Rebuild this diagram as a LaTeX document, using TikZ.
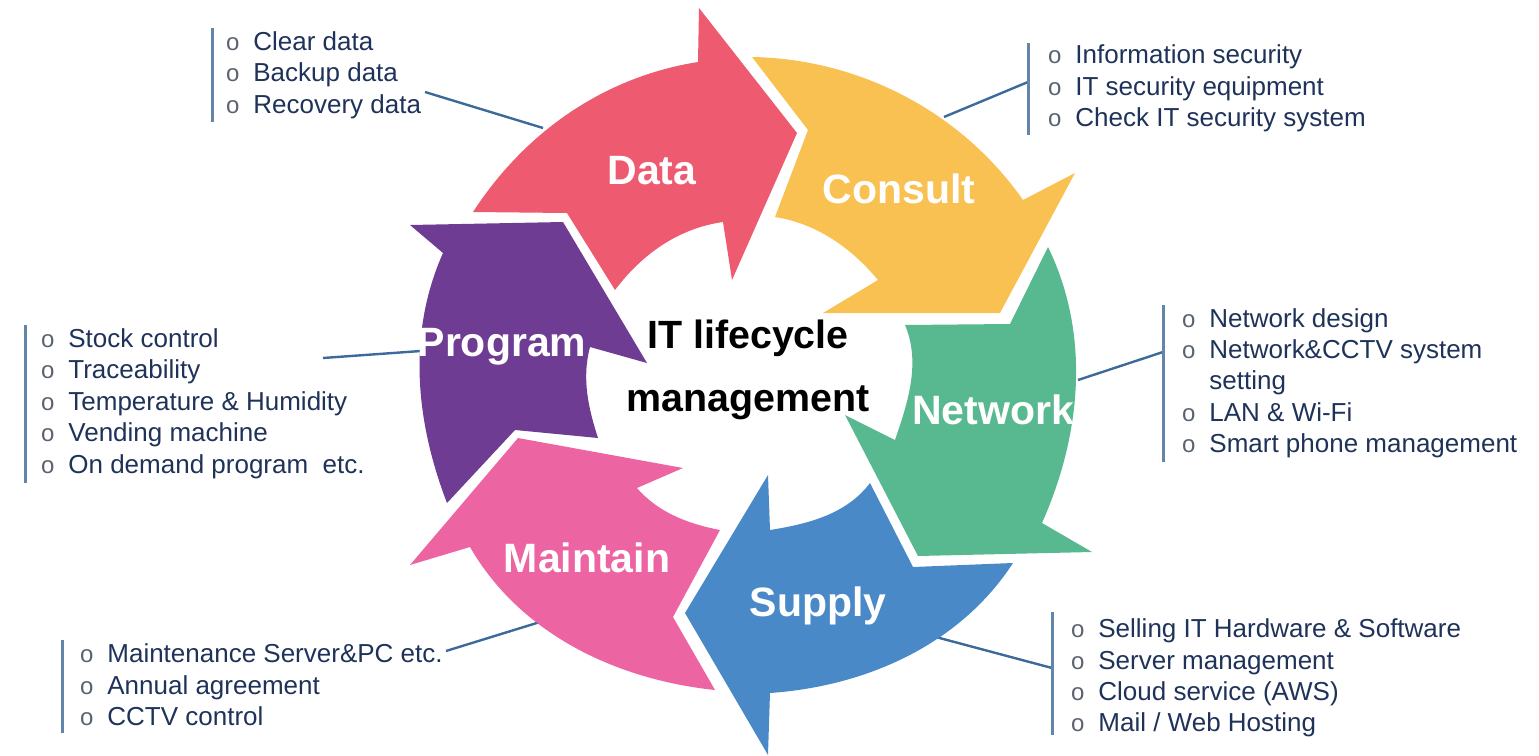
\documentclass[tikz,border=0pt]{standalone}
\usepackage{fontspec}
\setmainfont{Liberation Sans}
\definecolor{datared}{HTML}{EE5A6F}
\definecolor{consultyellow}{HTML}{F9C152}
\definecolor{networkgreen}{HTML}{58B88F}
\definecolor{supplyblue}{HTML}{4A89C8}
\definecolor{maintainpink}{HTML}{EC65A2}
\definecolor{programpurple}{HTML}{6E3C93}
\definecolor{itemtext}{HTML}{1F3259}
\definecolor{linkblue}{HTML}{3C6A9A}
\definecolor{barblue}{HTML}{6385AA}
\definecolor{bulletgray}{HTML}{5A6272}
\newcommand{\bul}{\llap{\textcolor{bulletgray}{\fontsize{12}{12}\selectfont o}\hspace{7pt}}}
\tikzset{
  listitem/.style={anchor=base west, inner sep=0pt, text=itemtext, font=\fontsize{13}{15}\selectfont},
  stagelabel/.style={anchor=base, inner sep=0pt, text=white, font=\fontsize{20.5}{24}\selectfont\bfseries},
  centertitle/.style={anchor=base, inner sep=0pt, text=black, font=\fontsize{19.7}{24}\selectfont\bfseries},
  listbar/.style={draw=barblue, line width=1.5pt},
  leader/.style={draw=linkblue, line width=1.2pt},
  ring/.style={looseness=0.9},
}
\begin{document}
\begin{tikzpicture}[x=0.5pt,y=-0.5pt]
        \useasboundingbox (0,0) rectangle (1539,756);

        \coordinate (datafoot) at (425,92);
        \coordinate (datahook) at (543,128);
        \coordinate (consultfoot) at (1028,82);
        \coordinate (consulthook) at (944,117);
        \coordinate (networkfoot) at (1163,352);
        \coordinate (networkhook) at (1078,380);
        \coordinate (supplyfoot) at (1052,668);
        \coordinate (supplyhook) at (932,636);
        \coordinate (maintainfoot) at (446,651);
        \coordinate (maintainhook) at (540,622);
        \coordinate (programfoot) at (323,358);
        \coordinate (programhook) at (421,351);

        \draw[leader] (datafoot) -- (datahook);
        \draw[leader] (consultfoot) -- (consulthook);
        \draw[leader] (networkfoot) -- (networkhook);
        \draw[leader] (supplyfoot) -- (supplyhook);
        \draw[leader] (maintainfoot) -- (maintainhook);
        \draw[leader] (programfoot) -- (programhook);

        % the six bent arrows
        \fill[datared] (473,212) -- (567,213) -- (615,290) to[ring,out=53,in=188] (723,222)
            -- (732,280) -- (797,133) -- (699,8) -- (698,62) to[ring,out=189,in=57] (473,212) -- cycle;
        \fill[consultyellow] (752,57) -- (808,130) -- (775,217) to[ring,out=-9,in=130] (878,280)
            -- (823,313) -- (1000,313) -- (1075,173) -- (1023,200) to[ring,out=125,in=-1] (752,57) -- cycle;
        \fill[networkgreen] (1048,247) -- (1010,324) -- (905,325) to[ring,out=-67,in=71] (895,440)
            -- (845,415) -- (918,556) -- (1092,552) -- (1042,523) to[ring,out=66,in=-64] (1048,247) -- cycle;
        \fill[supplyblue] (1013,563) -- (913,567) -- (870,483) to[ring,out=-127,in=9] (770,530)
            -- (768,475) -- (685,613) -- (768,755) -- (770,693) to[ring,out=4,in=-123] (1013,563) -- cycle;
        \fill[maintainpink] (720,530) -- (673,617) -- (715,690) to[ring,out=174,in=-60] (470,547)
            -- (410,565) -- (518,438) -- (683,468) -- (637,488) to[ring,out=-49,in=169] (720,530) -- cycle;
        \fill[programpurple] (410,225) -- (563,222) -- (647,363) -- (590,347) to[ring,out=-105,in=108] (598,438)
            -- (515,430) -- (447,503) to[ring,out=111,in=-114] (443,253) -- cycle;

        \node[stagelabel] (data) at (652,184) {Data};
        \node[stagelabel] (consult) at (899,203) {Consult};
        \node[stagelabel] (network) at (993,424) {Network};
        \node[stagelabel] (supply) at (818,616) {Supply};
        \node[stagelabel] (maintain) at (587,572) {Maintain};
        \node[stagelabel] (program) at (502,356) {Program};

        \node[centertitle] (title) at (748,348) {IT lifecycle};
        \node[centertitle] (subtitle) at (748,411) {management};

        \draw[listbar] (212,28) -- (212,122);
        \draw[listbar] (1028,43) -- (1028,135);
        \draw[listbar] (1163,305) -- (1163,462);
        \draw[listbar] (25,325) -- (25,483);
        \draw[listbar] (62,640) -- (62,733);
        \draw[listbar] (1052,612) -- (1052,735);

        \node[listitem] (d1) at (253,50) {\bul Clear data};
        \node[listitem] (d2) at (253,81) {\bul Backup data};
        \node[listitem] (d3) at (253,113) {\bul Recovery data};

        \node[listitem] (c1) at (1075,63) {\bul Information security};
        \node[listitem] (c2) at (1075,95) {\bul IT security equipment};
        \node[listitem] (c3) at (1075,126) {\bul Check IT security system};

        \node[listitem] (n1) at (1209,327) {\bul Network design};
        \node[listitem] (n2) at (1209,358) {\bul Network\&CCTV system};
        \node[listitem] (n3) at (1209,389) {setting};
        \node[listitem] (n4) at (1209,421) {\bul LAN \& Wi-Fi};
        \node[listitem] (n5) at (1209,452) {\bul Smart phone management};

        \node[listitem] (p1) at (68,347) {\bul Stock control};
        \node[listitem] (p2) at (68,378) {\bul Traceability};
        \node[listitem] (p3) at (68,410) {\bul Temperature \& Humidity};
        \node[listitem] (p4) at (68,441) {\bul Vending machine};
        \node[listitem] (p5) at (68,473) {\bul On demand program~ etc.};

        \node[listitem] (m1) at (107,662) {\bul Maintenance Server\&PC etc.};
        \node[listitem] (m2) at (107,694) {\bul Annual agreement};
        \node[listitem] (m3) at (107,725) {\bul CCTV control};

        \node[listitem] (s1) at (1098,637) {\bul Selling IT Hardware \& Software};
        \node[listitem] (s2) at (1098,669) {\bul Server management};
        \node[listitem] (s3) at (1098,700) {\bul Cloud service (AWS)};
        \node[listitem] (s4) at (1098,731) {\bul Mail / Web Hosting};
    \end{tikzpicture}
\end{document}
